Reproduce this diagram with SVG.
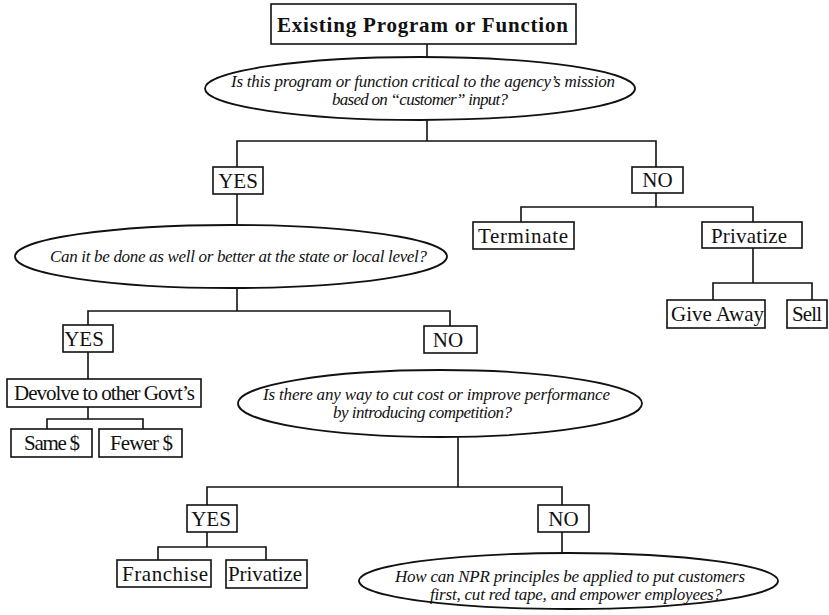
<svg xmlns="http://www.w3.org/2000/svg" width="829" height="615" viewBox="0 0 829 615">
<style>
  .bg { fill: #ffffff; }
  .box { fill: #ffffff; stroke: #111; stroke-width: 1.6; }
  .ell { fill: #ffffff; stroke: #111; stroke-width: 1.8; }
  .wire { fill: none; stroke: #111; stroke-width: 1.6; }
  .t { font-family: "Liberation Serif", "Times New Roman", serif; font-size: 21px; fill: #111; text-anchor: middle; }
  .title { font-family: "Liberation Serif", "Times New Roman", serif; font-size: 21px; font-weight: bold; fill: #111; text-anchor: middle; }
  .q { font-family: "Liberation Serif", "Times New Roman", serif; font-size: 17px; font-style: italic; fill: #111; text-anchor: middle; }
</style>
<rect class="bg" x="0" y="0" width="829" height="615"/>

<g id="connectors">
  <path class="wire" d="M427,44 V57"/>
  <path class="wire" d="M427,120 V141"/>
  <path class="wire" d="M237,167 V141 H656 V167"/>
  <path class="wire" d="M237,194 V225"/>
  <path class="wire" d="M656,193 V207"/>
  <path class="wire" d="M521,222 V207 H753 V222"/>
  <path class="wire" d="M753,248 V283"/>
  <path class="wire" d="M713,300 V283 H812 V300"/>
  <path class="wire" d="M237,288 V311"/>
  <path class="wire" d="M88,325 V311 H450 V326"/>
  <path class="wire" d="M88,352 V379"/>
  <path class="wire" d="M88,407 V419"/>
  <path class="wire" d="M47,429 V419 H143 V429"/>
  <path class="wire" d="M458,437 V487"/>
  <path class="wire" d="M207,505 V487 H562 V505"/>
  <path class="wire" d="M207,532 V547"/>
  <path class="wire" d="M158,560 V547 H266 V560"/>
  <path class="wire" d="M562,532 V553"/>
</g>

<g id="existing">
  <rect class="box" x="271" y="4" width="305" height="40"/>
  <text class="title" x="422.5" y="32" textLength="291">Existing Program or Function</text>
</g>

<g id="q-critical">
  <ellipse class="ell" cx="420" cy="88.5" rx="215" ry="31.5"/>
  <text class="q" x="423" y="87" textLength="384">Is this program or function critical to the agency’s mission</text>
  <text class="q" x="420" y="105" textLength="176">based on “customer” input?</text>
</g>

<g id="yes1">
  <rect class="box" x="213" y="167" width="50" height="27"/>
  <text class="t" x="238" y="188">YES</text>
</g>

<g id="no1">
  <rect class="box" x="632" y="167" width="51" height="26"/>
  <text class="t" x="657.5" y="187">NO</text>
</g>

<g id="terminate">
  <rect class="box" x="473" y="222" width="101" height="27"/>
  <text class="t" x="523" y="243" textLength="90">Terminate</text>
</g>

<g id="privatize1">
  <rect class="box" x="702" y="222" width="100" height="26"/>
  <text class="t" x="749" y="243" textLength="76">Privatize</text>
</g>

<g id="giveaway">
  <rect class="box" x="667" y="300" width="98" height="28"/>
  <text class="t" x="717.5" y="321" textLength="93">Give Away</text>
</g>

<g id="sell">
  <rect class="box" x="787" y="300" width="40" height="28"/>
  <text class="t" x="807" y="321" textLength="30">Sell</text>
</g>

<g id="q-state">
  <ellipse class="ell" cx="231" cy="256.5" rx="216" ry="31.5"/>
  <text class="q" x="238.5" y="262" textLength="377">Can it be done as well or better at the state or local level?</text>
</g>

<g id="yes2">
  <rect class="box" x="63" y="325" width="50" height="27"/>
  <text class="t" x="84" y="346">YES</text>
</g>

<g id="no2">
  <rect class="box" x="424" y="326" width="53" height="27"/>
  <text class="t" x="448" y="347">NO</text>
</g>

<g id="devolve">
  <rect class="box" x="7" y="379" width="194" height="28"/>
  <text class="t" x="104.5" y="400" textLength="181">Devolve to other Govt’s</text>
</g>

<g id="same">
  <rect class="box" x="11" y="429" width="81" height="28"/>
  <text class="t" x="52" y="450" textLength="56">Same $</text>
</g>

<g id="fewer">
  <rect class="box" x="99" y="429" width="83" height="28"/>
  <text class="t" x="141.5" y="450" textLength="63">Fewer $</text>
</g>

<g id="q-competition">
  <ellipse class="ell" cx="440" cy="403.5" rx="202" ry="33.5"/>
  <text class="q" x="436.5" y="400" textLength="347">Is there any way to cut cost or improve performance</text>
  <text class="q" x="422.5" y="418" textLength="179">by introducing competition?</text>
</g>

<g id="yes3">
  <rect class="box" x="187" y="505" width="50" height="27"/>
  <text class="t" x="211" y="526">YES</text>
</g>

<g id="no3">
  <rect class="box" x="538" y="505" width="51" height="27"/>
  <text class="t" x="563.5" y="526">NO</text>
</g>

<g id="franchise">
  <rect class="box" x="117" y="560" width="94" height="27"/>
  <text class="t" x="165" y="581" textLength="86">Franchise</text>
</g>

<g id="privatize2">
  <rect class="box" x="226" y="560" width="81" height="28"/>
  <text class="t" x="265" y="581" textLength="74">Privatize</text>
</g>

<g id="q-npr">
  <ellipse class="ell" cx="568.5" cy="581" rx="209.5" ry="28"/>
  <text class="q" x="570" y="582" textLength="350">How can NPR principles be applied to put customers</text>
  <text class="q" x="576" y="600" textLength="292">first, cut red tape, and empower employees?</text>
</g>
</svg>
